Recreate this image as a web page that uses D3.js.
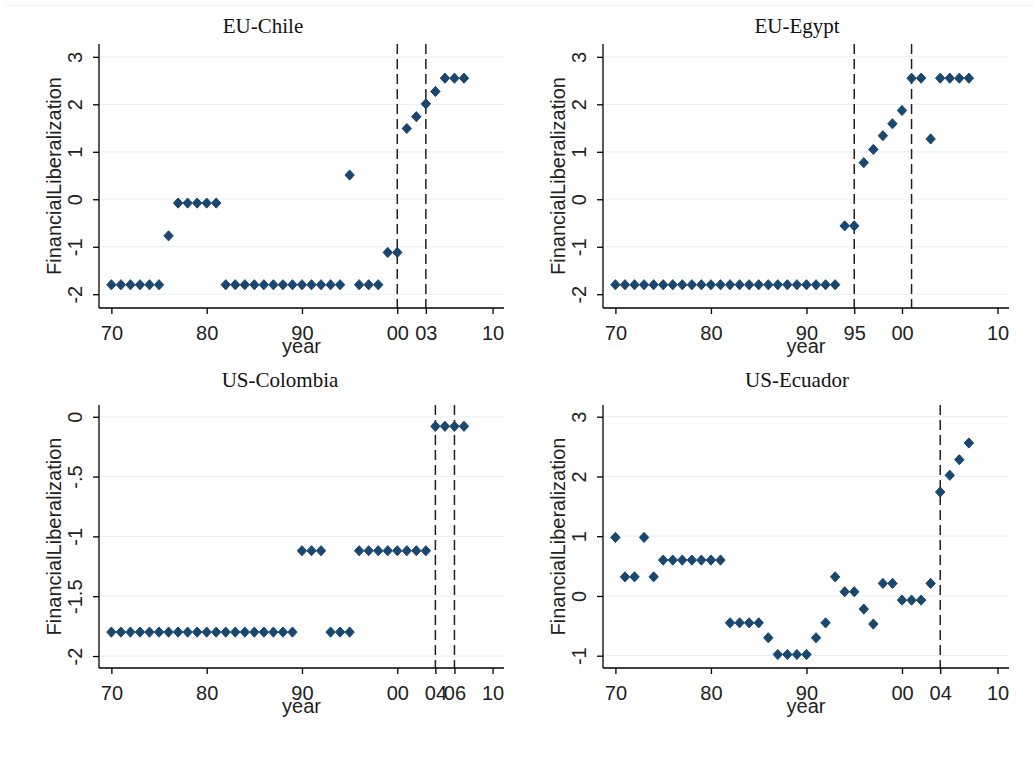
<!DOCTYPE html>
<html>
<head>
<meta charset="utf-8">
<script src="https://cdn.jsdelivr.net/npm/d3@7"></script>
<style>
  body { margin: 0; background: #fff; }
  svg { display: block; }
</style>
</head>
<body>
<svg id="chart" width="1034" height="759"></svg>
<script>
// Data
const years = [1970, 1971, 1972, 1973, 1974, 1975, 1976, 1977, 1978, 1979,
               1980, 1981, 1982, 1983, 1984, 1985, 1986, 1987, 1988, 1989,
               1990, 1991, 1992, 1993, 1994, 1995, 1996, 1997, 1998, 1999,
               2000, 2001, 2002, 2003, 2004, 2005, 2006, 2007];

const chileValues = [-1.8, -1.8, -1.8, -1.8, -1.8, -1.8, -0.77, -0.08, -0.08, -0.08,
                     -0.08, -0.08, -1.8, -1.8, -1.8, -1.8, -1.8, -1.8, -1.8, -1.8,
                     -1.8, -1.8, -1.8, -1.8, -1.8, 0.51, -1.8, -1.8, -1.8, -1.12,
                     -1.12, 1.49, 1.74, 2.01, 2.27, 2.55, 2.55, 2.55];

const egyptValues = [-1.8, -1.8, -1.8, -1.8, -1.8, -1.8, -1.8, -1.8, -1.8, -1.8,
                     -1.8, -1.8, -1.8, -1.8, -1.8, -1.8, -1.8, -1.8, -1.8, -1.8,
                     -1.8, -1.8, -1.8, -1.8, -0.56, -0.56, 0.77, 1.05, 1.34, 1.59,
                     1.87, 2.55, 2.55, 1.27, 2.55, 2.55, 2.55, 2.55];

const colombiaValues = [-1.8, -1.8, -1.8, -1.8, -1.8, -1.8, -1.8, -1.8, -1.8, -1.8,
                        -1.8, -1.8, -1.8, -1.8, -1.8, -1.8, -1.8, -1.8, -1.8, -1.8,
                        -1.12, -1.12, -1.12, -1.8, -1.8, -1.8, -1.12, -1.12, -1.12, -1.12,
                        -1.12, -1.12, -1.12, -1.12, -0.08, -0.08, -0.08, -0.08];

const ecuadorValues = [0.98, 0.32, 0.32, 0.98, 0.32, 0.6, 0.6, 0.6, 0.6, 0.6,
                       0.6, 0.6, -0.45, -0.45, -0.45, -0.45, -0.7, -0.98, -0.98, -0.98,
                       -0.98, -0.7, -0.45, 0.32, 0.07, 0.07, -0.22, -0.47, 0.21, 0.21,
                       -0.07, -0.07, -0.07, 0.21, 1.74, 2.02, 2.28, 2.56];

// Tick values and labels
const chileXTicks = [1970, 1980, 1990, 2000, 2003, 2010];
const egyptXTicks = [1970, 1980, 1990, 1995, 2000, 2010];
const colombiaXTicks = [1970, 1980, 1990, 2000, 2004, 2006, 2010];
const ecuadorXTicks = [1970, 1980, 1990, 2000, 2004, 2010];

const chileDashes = [2000, 2003];
const egyptDashes = [1995, 2001];
const colombiaDashes = [2004, 2006];
const ecuadorDashes = [2004];

const wideYTicks = [-2, -1, 0, 1, 2, 3];
const colombiaYTicks = [-2, -1.5, -1, -0.5, 0];
const ecuadorYTicks = [-1, 0, 1, 2, 3];

const panels = [
    { title: 'EU-Chile', values: chileValues, xTicks: chileXTicks, dashes: chileDashes,
      yTicks: wideYTicks, yDomain: [-2.29, 3.27],
      left: 99, right: 504, top: 44, bottom: 308, titleX: 263, titleY: 33 },
    { title: 'EU-Egypt', values: egyptValues, xTicks: egyptXTicks, dashes: egyptDashes,
      yTicks: wideYTicks, yDomain: [-2.29, 3.27],
      left: 603, right: 1009, top: 44, bottom: 308, titleX: 797, titleY: 33 },
    { title: 'US-Colombia', values: colombiaValues, xTicks: colombiaXTicks, dashes: colombiaDashes,
      yTicks: colombiaYTicks, yDomain: [-2.10, 0.098],
      left: 99, right: 504, top: 405, bottom: 668, titleX: 280, titleY: 387 },
    { title: 'US-Ecuador', values: ecuadorValues, xTicks: ecuadorXTicks, dashes: ecuadorDashes,
      yTicks: ecuadorYTicks, yDomain: [-1.206, 3.196],
      left: 603, right: 1009, top: 405, bottom: 668, titleX: 797, titleY: 387 }
];

const markerColor = '#1a476f';
const gridColor = '#eaf0f5';
const sans = '"Liberation Sans", Arial, sans-serif';
const serif = '"Liberation Serif", "Times New Roman", serif';

const svg = d3.select('#chart');

// faint frame line at the very top
svg.append('line')
    .attr('x1', 5).attr('x2', 1034).attr('y1', 5.5).attr('y2', 5.5)
    .attr('stroke', '#eef1f6').attr('stroke-width', 1);

// diamond marker
function diamond(w, h) {
    const p = d3.path();
    p.moveTo(0, -h);
    p.lineTo(w, 0);
    p.lineTo(0, h);
    p.lineTo(-w, 0);
    p.closePath();
    return p.toString();
}

function fmtYear(d) {
    return String(d % 100).padStart(2, '0');
}

function fmtY(d) {
    if (d === 0) return '0';
    return String(d).replace('0.', '.');
}

panels.forEach(p => {
    const g = svg.append('g');

    const x = d3.scaleLinear().domain([1968.7, 2011.2]).range([p.left, p.right]);
    const y = d3.scaleLinear().domain(p.yDomain).range([p.bottom, p.top]);

    // gridlines
    g.append('g').selectAll('line').data(p.yTicks).enter().append('line')
        .attr('x1', p.left + 1).attr('x2', p.right)
        .attr('y1', d => y(d)).attr('y2', d => y(d))
        .attr('stroke', gridColor).attr('stroke-width', 1.2);

    // dashed reference lines
    g.append('g').selectAll('line').data(p.dashes).enter().append('line')
        .attr('x1', d => x(d)).attr('x2', d => x(d))
        .attr('y1', p.top).attr('y2', p.bottom)
        .attr('stroke', '#1e1e1e').attr('stroke-width', 1.5)
        .attr('stroke-dasharray', '10,5');

    // points
    const data = years.map((yr, i) => ({ year: yr, value: p.values[i] }));
    g.append('g').selectAll('path').data(data).enter().append('path')
        .attr('d', diamond(4.7, 5.1))
        .attr('transform', d => `translate(${x(d.year)},${y(d.value)})`)
        .attr('fill', markerColor)
        .attr('stroke', markerColor)
        .attr('stroke-width', 1)
        .attr('stroke-linejoin', 'round');

    // x axis
    const xAxis = g.append('g')
        .attr('transform', `translate(0,${p.bottom})`)
        .call(d3.axisBottom(x).tickValues(p.xTicks).tickFormat(fmtYear)
            .tickSize(6).tickSizeOuter(0).tickPadding(12));
    xAxis.select('.domain').attr('d', `M${p.left},0H${p.right}`).attr('stroke', '#000').attr('stroke-width', 1.3);
    xAxis.selectAll('.tick line').attr('stroke', '#000').attr('stroke-width', 1.3);
    xAxis.selectAll('text').attr('font-family', sans).attr('font-size', 20).attr('fill', '#222');

    // y axis
    const yAxis = g.append('g')
        .attr('transform', `translate(${p.left},0)`)
        .call(d3.axisLeft(y).tickValues(p.yTicks).tickFormat(fmtY)
            .tickSize(6).tickSizeOuter(0));
    yAxis.select('.domain').attr('d', `M0,${p.top}V${p.bottom}`).attr('stroke', '#000').attr('stroke-width', 1.3);
    yAxis.selectAll('.tick line').attr('stroke', '#000').attr('stroke-width', 1.3);
    yAxis.selectAll('text')
        .attr('x', 0).attr('y', -17).attr('dy', 0)
        .attr('text-anchor', 'middle')
        .attr('transform', 'rotate(-90)')
        .attr('font-family', sans).attr('font-size', 20).attr('fill', '#222');

    // axis titles
    g.append('text')
        .attr('transform', `translate(${p.left - 38},${(p.top + p.bottom) / 2}) rotate(-90)`)
        .attr('text-anchor', 'middle')
        .attr('font-family', sans).attr('font-size', 20).attr('fill', '#222')
        .text('FinancialLiberalization');

    g.append('text')
        .attr('x', (p.left + p.right) / 2).attr('y', p.bottom + 45)
        .attr('text-anchor', 'middle')
        .attr('font-family', sans).attr('font-size', 20).attr('fill', '#222')
        .text('year');

    // panel title
    g.append('text')
        .attr('x', p.titleX).attr('y', p.titleY)
        .attr('text-anchor', 'middle')
        .attr('font-family', serif).attr('font-size', 21).attr('fill', '#111')
        .text(p.title);
});
</script>
</body>
</html>
